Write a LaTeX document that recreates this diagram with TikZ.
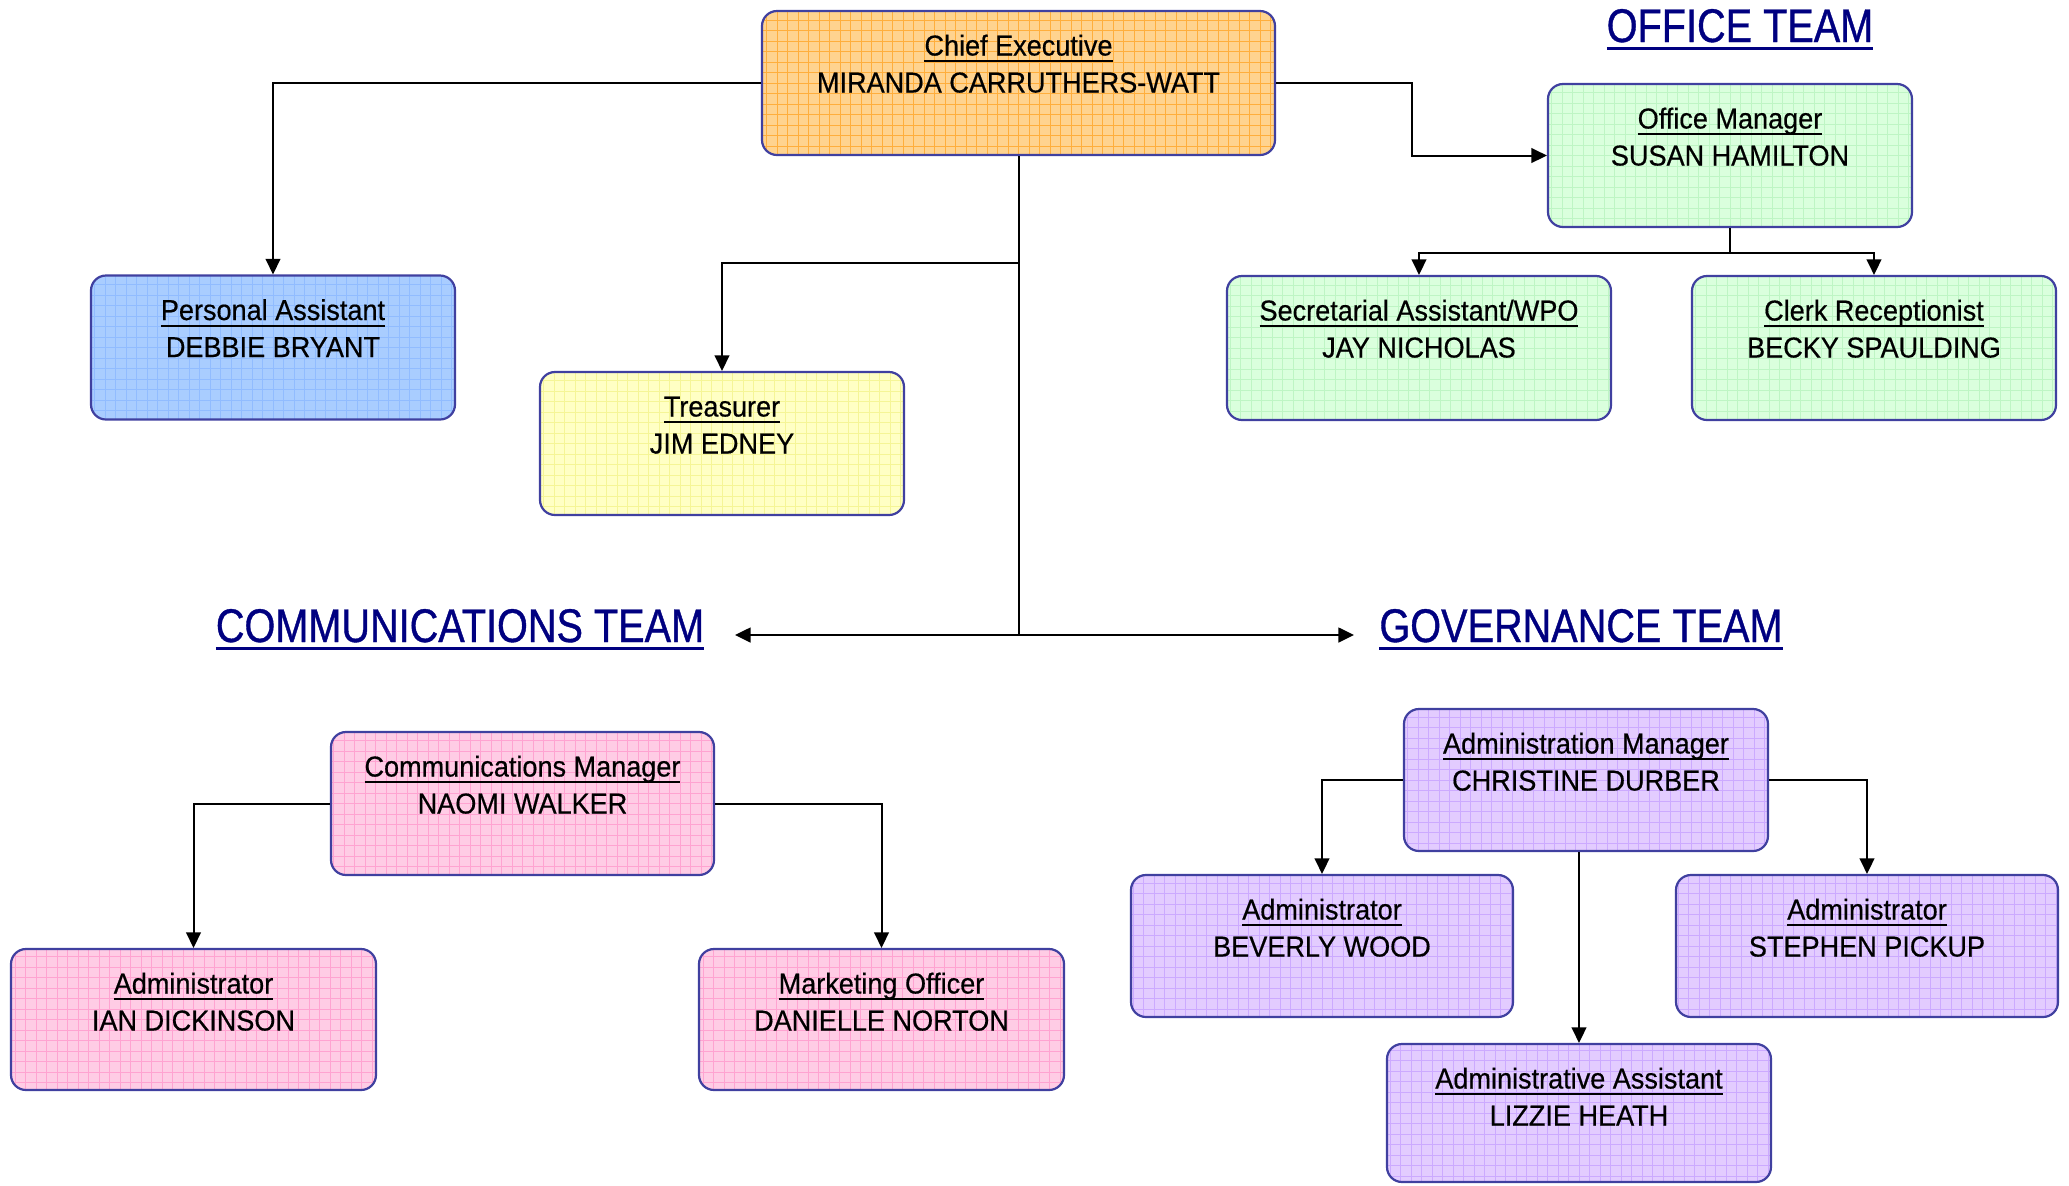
\documentclass[tikz,border=0pt]{standalone}
\usepackage{fontspec}
\setmainfont{Liberation Sans}[FakeStretch=0.94, FakeBold=0.5]
\newfontfamily\headfont{Liberation Sans}[FakeStretch=0.84, FakeBold=0.8]
\usetikzlibrary{arrows.meta}

% colours of the chart
\definecolor{bordercol}{RGB}{64,64,160}
\definecolor{headcol}{RGB}{0,0,128}
\definecolor{orFill}{RGB}{255,211,143}\definecolor{orGrid}{RGB}{255,174,60}
\definecolor{blFill}{RGB}{169,205,255}\definecolor{blGrid}{RGB}{145,188,255}
\definecolor{yeFill}{RGB}{255,255,196}\definecolor{yeGrid}{RGB}{245,245,150}
\definecolor{grFill}{RGB}{218,255,221}\definecolor{grGrid}{RGB}{190,245,196}
\definecolor{piFill}{RGB}{255,204,229}\definecolor{piGrid}{RGB}{255,163,209}
\definecolor{puFill}{RGB}{227,204,255}\definecolor{puGrid}{RGB}{204,170,255}

% underlined job titles and team headings
\newcommand{\roleline}[1]{\setbox0=\hbox{#1}\leavevmode\rlap{\rule[-3.35pt]{\wd0}{1.1pt}}\box0}
\newcommand{\headline}[1]{\setbox0=\hbox{#1}\leavevmode\rlap{\rule[-4.2pt]{\wd0}{1.7pt}}\box0}

\tikzset{
  unit/.style 2 args={draw=bordercol, line width=1.1pt, rounded corners=7.5pt,
    inner sep=0pt, fill=#1,
    path picture={\draw[#2, line width=0.45pt]
      (path picture bounding box.south west) grid[step=5.25pt]
      (path picture bounding box.north east);}},
  ceshade/.style={unit={orFill}{orGrid}},
  pashade/.style={unit={blFill}{blGrid}},
  trshade/.style={unit={yeFill}{yeGrid}},
  ofshade/.style={unit={grFill}{grGrid}},
  cmshade/.style={unit={piFill}{piGrid}},
  gvshade/.style={unit={puFill}{puGrid}},
  roletext/.style={inner sep=0pt, text=black, font=\fontsize{14.4pt}{17pt}\selectfont},
  teamhead/.style={inner sep=0pt, text=headcol, font=\headfont\fontsize{23.6pt}{27pt}\selectfont},
  line/.style={draw=black, line width=1pt},
  link/.style={line, -{Triangle[length=7.8pt,width=7.4pt]}},
}

% name, centre x, centre y, width, height, shade, job title, person
\newcommand{\orgunit}[8]{%
  \node[#6, minimum width={#4*0.5pt}, minimum height={#5*0.5pt}] (#1) at (#2,#3) {};
  \node[roletext, anchor=base] (#1-role) at ([yshift=-22.8pt]#1.north) {\roleline{#7}};
  \node[roletext, anchor=base] (#1-name) at ([yshift=-41.3pt]#1.north) {#8};
}

\begin{document}
\begin{tikzpicture}[x=0.5pt, y=-0.5pt]
\useasboundingbox (0,0) rectangle (2069,1185);

% team headings
\node[teamhead, anchor=base] (officehead) at (1740,42) {\headline{OFFICE TEAM}};
\node[teamhead, anchor=base] (commhead) at (460,642) {\headline{COMMUNICATIONS TEAM}};
\node[teamhead, anchor=base] (govhead) at (1581,642) {\headline{GOVERNANCE TEAM}};

% staff boxes
\orgunit{ce}{1018.5}{83}{513}{144}{ceshade}{Chief Executive}{MIRANDA CARRUTHERS-WATT}
\orgunit{pa}{273}{347.5}{364}{144}{pashade}{Personal Assistant}{DEBBIE BRYANT}
\orgunit{tr}{722}{443.5}{364}{143}{trshade}{Treasurer}{JIM EDNEY}
\orgunit{om}{1730}{155.5}{364}{143}{ofshade}{Office Manager}{SUSAN HAMILTON}
\orgunit{sec}{1419}{348}{384}{144}{ofshade}{Secretarial Assistant/WPO}{JAY NICHOLAS}
\orgunit{clerk}{1874}{348}{364}{144}{ofshade}{Clerk Receptionist}{BECKY SPAULDING}
\orgunit{cm}{522.5}{803.5}{383}{143}{cmshade}{Communications Manager}{NAOMI WALKER}
\orgunit{ian}{193.5}{1019.5}{365}{141}{cmshade}{Administrator}{IAN DICKINSON}
\orgunit{mkt}{881.5}{1019.5}{365}{141}{cmshade}{Marketing Officer}{DANIELLE NORTON}
\orgunit{am}{1586}{780}{364}{142}{gvshade}{Administration Manager}{CHRISTINE DURBER}
\orgunit{bev}{1322}{946}{382}{142}{gvshade}{Administrator}{BEVERLY WOOD}
\orgunit{steve}{1867}{946}{382}{142}{gvshade}{Administrator}{STEPHEN PICKUP}
\orgunit{aa}{1579}{1113}{384}{138}{gvshade}{Administrative Assistant}{LIZZIE HEATH}

% junction points of the connectors
\coordinate (trbranch) at (1018.5,263);
\coordinate (hub) at (1018.5,635);
\coordinate (commtip) at (735,635);
\coordinate (govtip) at (1354,635);

% chief executive links
\draw[link] (ce.west) -| (pa.north);
\draw[link] (ce.east) -- ++(136,0) |- (om.west);
\draw[line] (ce.south) -- (hub);
\draw[link] (trbranch) -| (tr.north);
\draw[link] (hub) -- (commtip);
\draw[link] (hub) -- (govtip);

% office team
\draw[line] (om.south) -- ++(0,25) coordinate (ombus);
\draw[link] (ombus) -| (sec.north);
\draw[link] (ombus) -| (clerk.north);

% communications team
\draw[link] (cm.west) -| (ian.north);
\draw[link] (cm.east) -| (mkt.north);

% governance team
\draw[link] (am.west) -| (bev.north);
\draw[link] (am.east) -| (steve.north);
\draw[link] (am.south -| aa.north) -- (aa.north);
\end{tikzpicture}
\end{document}
